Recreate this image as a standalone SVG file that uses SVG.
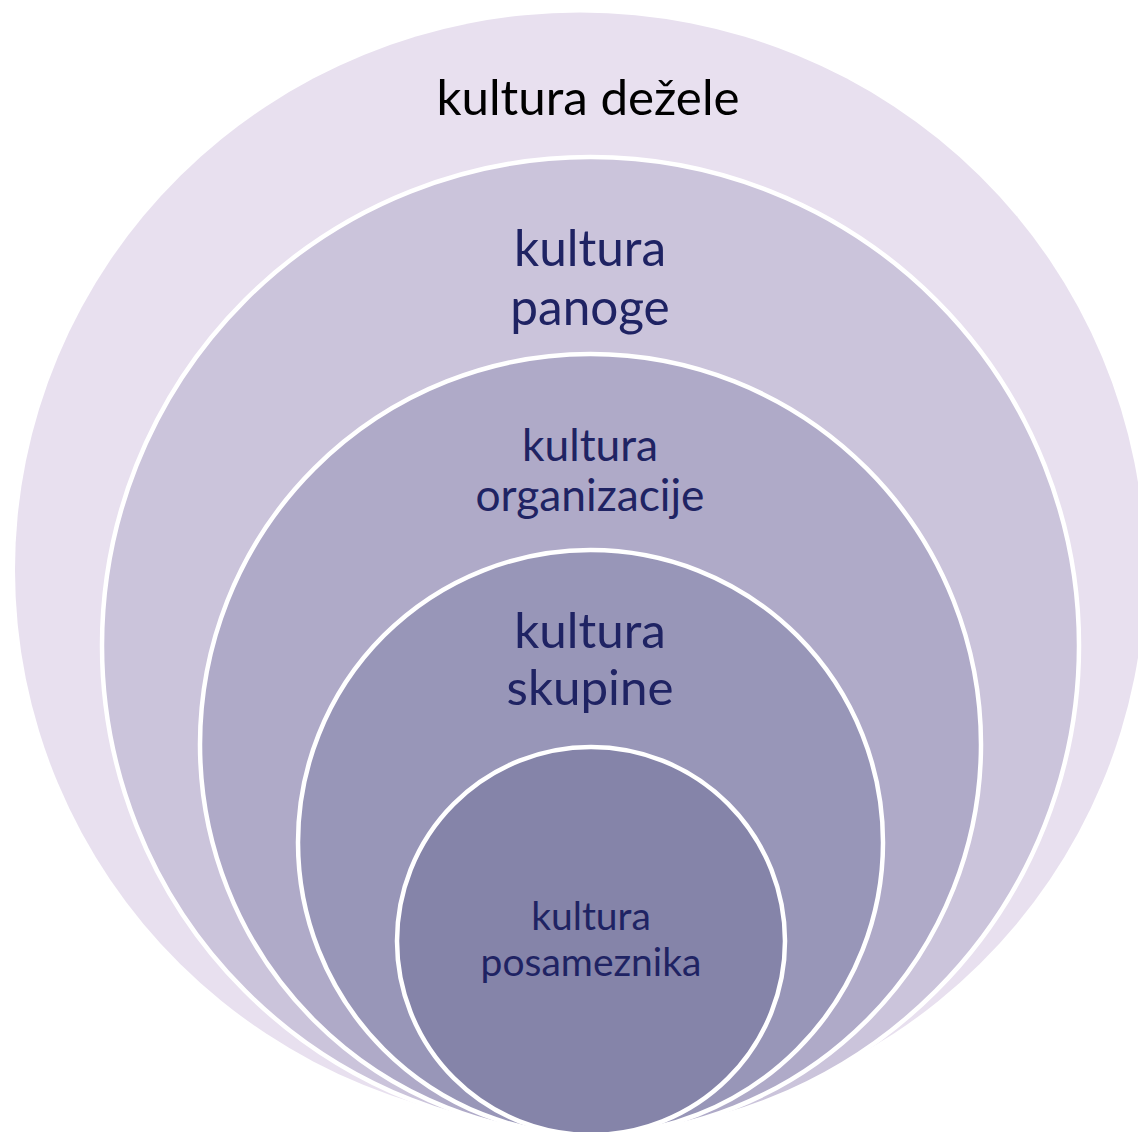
<svg xmlns="http://www.w3.org/2000/svg" width="1138" height="1134" viewBox="0 0 1138 1134">
  <defs>
    <clipPath id="crop"><rect x="0" y="0" width="1138" height="1132"/></clipPath>
    <style>
      .ring { stroke: #FFFFFF; stroke-width: 4.5; }
      .lbl { font-family: Lato, "Liberation Sans", sans-serif; text-anchor: middle; fill: #1F2363; }
      .blk { fill: #000000; }
    </style>
  </defs>
  <rect x="0" y="0" width="1138" height="1134" fill="#FFFFFF"/>
  <g clip-path="url(#crop)">
    <g id="node-dezela">
      <ellipse cx="580" cy="570" rx="565" ry="557.5" fill="#E8E0EF"/>
      <text class="lbl blk" x="588" y="115" font-size="49.3">kultura dežele</text>
    </g>
    <g id="node-panoga">
      <circle class="ring" cx="590.5" cy="645.5" r="488.5" fill="#CBC4DB"/>
      <text class="lbl" x="590" y="266" font-size="49.5">kultura</text>
      <text class="lbl" x="590" y="325" font-size="49.5">panoge</text>
    </g>
    <g id="node-organizacija">
      <circle class="ring" cx="590.5" cy="744.5" r="390.5" fill="#AFAAC8"/>
      <text class="lbl" x="590" y="461" font-size="44.3">kultura</text>
      <text class="lbl" x="590" y="511" font-size="44.3">organizacije</text>
    </g>
    <g id="node-skupina">
      <circle class="ring" cx="590.5" cy="842.5" r="292.5" fill="#9896B8"/>
      <text class="lbl" x="590" y="648" font-size="49.3">kultura</text>
      <text class="lbl" x="590" y="705" font-size="49.3">skupine</text>
    </g>
    <g id="node-posameznik">
      <circle class="ring" cx="591" cy="941" r="194" fill="#8584A9"/>
      <text class="lbl" x="591" y="930" font-size="39">kultura</text>
      <text class="lbl" x="591" y="975.5" font-size="39">posameznika</text>
    </g>
  </g>
  <g id="connectors"/>
</svg>
